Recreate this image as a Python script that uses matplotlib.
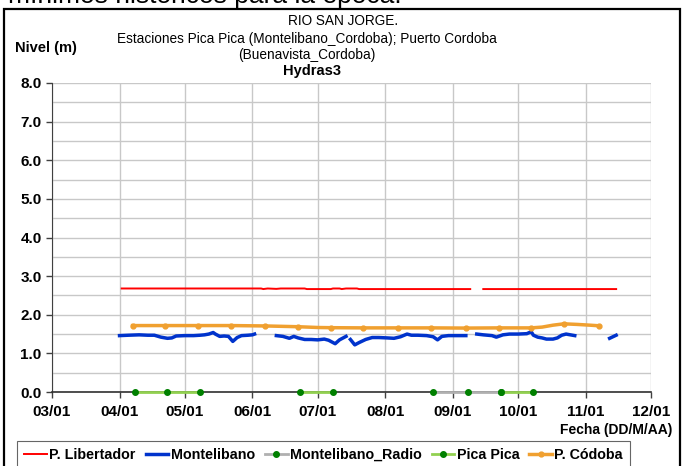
import datetime as dt
import numpy as np
import matplotlib
matplotlib.use("Agg")
import matplotlib.pyplot as plt
import matplotlib.dates as mdates
from matplotlib.patches import Rectangle

plt.rcParams['font.family'] = ['Liberation Sans', 'DejaVu Sans']

YEAR = 2011

def d(s):
    # "MM-DD" -> datetime, "gap" -> None (line break)
    if s == "gap":
        return None
    m, dd = s.split("-")
    return dt.datetime(YEAR, int(m), int(dd))

# P. Libertador (red)
lib_dates = ["04-02", "06-05", "06-06", "06-08", "06-12", "06-14", "06-25", "06-26",
             "07-07", "07-08", "07-11", "07-12", "07-14", "07-19", "07-20", "09-09",
             "gap", "09-15", "11-15"]
lib_vals = [2.68, 2.68, 2.665, 2.68, 2.67, 2.68, 2.68, 2.665,
            2.665, 2.68, 2.68, 2.665, 2.68, 2.68, 2.665, 2.665,
            np.nan, 2.665, 2.665]

# Montelibano (blue)
mon_dates = ["04-01", "04-05", "04-10", "04-14", "04-17", "04-20", "04-23", "04-25",
             "04-27", "05-01", "05-05", "05-08", "05-10", "05-12", "05-14", "05-15",
             "05-17", "05-19", "05-21", "05-23", "05-25", "05-27", "05-30", "06-01",
             "06-02", "gap",
             "06-12", "06-15", "06-18", "06-20", "06-22", "06-25", "06-28", "07-01",
             "07-04", "07-06", "07-09", "07-11", "07-13", "07-14", "gap",
             "07-16", "07-18", "07-20", "07-23", "07-26", "07-29", "08-02", "08-05",
             "08-08", "08-11", "08-13", "08-16", "08-20", "08-23", "08-25", "08-27",
             "08-30", "09-03", "09-07", "gap",
             "09-12", "09-15", "09-19", "09-21", "09-24", "09-27", "10-01", "10-05",
             "10-07", "10-08", "10-10", "10-12", "10-14", "10-17", "10-19", "10-21",
             "10-23", "10-25", "10-27", "gap",
             "11-12", "11-15"]
mon_vals = [1.46, 1.47, 1.48, 1.47, 1.47, 1.42, 1.39, 1.40,
            1.45, 1.46, 1.46, 1.47, 1.48, 1.50, 1.54, 1.50,
            1.44, 1.45, 1.44, 1.31, 1.41, 1.46, 1.47, 1.48,
            1.50, np.nan,
            1.46, 1.44, 1.39, 1.44, 1.40, 1.36, 1.36, 1.35,
            1.37, 1.34, 1.25, 1.35, 1.41, 1.44, np.nan,
            1.36, 1.22, 1.28, 1.36, 1.41, 1.41, 1.40, 1.39,
            1.43, 1.50, 1.47, 1.47, 1.46, 1.43, 1.35, 1.44,
            1.46, 1.46, 1.46, np.nan,
            1.50, 1.48, 1.46, 1.42, 1.48, 1.50, 1.50, 1.51,
            1.56, 1.47, 1.42, 1.40, 1.37, 1.37, 1.40, 1.47,
            1.50, 1.48, 1.46, np.nan,
            1.39, 1.47]

# Montelibano_Radio (grey)
radio_dates = ["08-23", "09-08", "09-23"]
radio_vals = [0.0, 0.0, 0.0]

# Pica Pica (green)
pica_dates = ["04-08", "04-23", "05-08", "gap", "06-23", "07-08", "gap", "09-23", "10-08"]
pica_vals = [0.0, 0.0, 0.0, np.nan, 0.0, 0.0, np.nan, 0.0, 0.0]

# P. Cordoba (orange)
cor_dates = ["04-07", "04-22", "05-07", "05-22", "06-07", "06-22", "07-01", "07-07",
             "07-22", "08-07", "08-22", "09-07", "09-22", "10-07", "10-12", "10-17",
             "10-22", "10-28", "11-03", "11-07"]
cor_vals = [1.72, 1.72, 1.72, 1.72, 1.71, 1.69, 1.67, 1.665,
            1.66, 1.66, 1.66, 1.655, 1.66, 1.66, 1.68, 1.73,
            1.765, 1.75, 1.73, 1.715]
cor_marked = [1, 1, 1, 1, 1, 1, 0, 1, 1, 1, 1, 1, 1, 1, 0, 0, 1, 0, 0, 1]


def series(dates, vals):
    xs, ys = [], []
    last = None
    for s, v in zip(dates, vals):
        t = d(s)
        if t is None:
            t = last + dt.timedelta(days=1)
        xs.append(t)
        ys.append(v)
        last = t
    return xs, ys


fig = plt.figure(figsize=(6.88, 4.66), dpi=100)
ax = fig.add_axes([52 / 688, 1 - 392 / 466, (651 - 52) / 688, (392 - 83) / 466])

x, y = series(lib_dates, lib_vals)
ax.plot(x, y, color="#FF0000", lw=1.4, label="P. Libertador", zorder=3)

x, y = series(mon_dates, mon_vals)
ax.plot(x, y, color="#0033CC", lw=2.5, label="Montelibano", zorder=4)

x, y = series(radio_dates, radio_vals)
ax.plot(x, y, color="#B0B0B0", lw=2.0, marker="o", ms=4, mfc="#008000", mec="#008000",
        label="Montelibano_Radio", clip_on=False, zorder=5)

x, y = series(pica_dates, pica_vals)
ax.plot(x, y, color="#92D050", lw=2.0, marker="o", ms=4, mfc="#008000", mec="#008000",
        label="Pica Pica", clip_on=False, zorder=5)

x, y = series(cor_dates, cor_vals)
marks = [i for i, m in enumerate(cor_marked) if m]
ax.plot(x, y, color="#F0A030", lw=2.5, marker="o", ms=3.5, markevery=marks,
        label="P. Códoba", zorder=4)

ax.set_xlim(dt.datetime(YEAR, 3, 1), dt.datetime(YEAR, 12, 1))
ax.set_ylim(0, 8)
ax.xaxis.set_major_locator(mdates.MonthLocator())
ax.xaxis.set_major_formatter(mdates.DateFormatter("%m/%d"))
ax.set_yticks(np.arange(0, 8.1, 1))
ax.set_yticks(np.arange(0.5, 8, 1), minor=True)
ax.yaxis.set_major_formatter(matplotlib.ticker.FormatStrFormatter("%.1f"))
ax.grid(True, which="both", color="#C8C8C8", lw=1.0)
ax.set_axisbelow(True)
ax.tick_params(axis="y", which="minor", length=0)
ax.tick_params(axis="both", which="major", length=4, color="#404040", width=1,
               labelsize=11)
ax.tick_params(axis="x", pad=5)
for lab in ax.get_xticklabels() + ax.get_yticklabels():
    lab.set_fontweight("bold")
for side in ("top", "right"):
    ax.spines[side].set_visible(False)
ax.spines["left"].set_color("#404040")
ax.spines["bottom"].set_color("#303030")
ax.spines["bottom"].set_linewidth(1.2)

# titles
fig.text(343 / 688, 1 - 21 / 466, "RIO SAN JORGE.", ha="center", va="center", fontsize=9.8)
fig.text(307 / 688, 1 - 39 / 466, "Estaciones Pica Pica (Montelibano_Cordoba); Puerto Cordoba",
         ha="center", va="center", fontsize=9.8)
fig.text(307 / 688, 1 - 55 / 466, "(Buenavista_Cordoba)", ha="center", va="center", fontsize=9.8)
fig.text(312 / 688, 1 - 71 / 466, "Hydras3", ha="center", va="center", fontsize=10.5,
         fontweight="bold")
fig.text(15 / 688, 1 - 48 / 466, "Nivel (m)", ha="left", va="center", fontsize=10.5,
         fontweight="bold")
fig.text(672 / 688, 1 - 430 / 466, "Fecha (DD/M/AA)", ha="right", va="center",
         fontsize=10, fontweight="bold")

# heading cut off at the top of the picture
fig.text(8 / 688, 1 - 3 / 466, "mínimos históricos para la época.", ha="left",
         va="baseline", fontsize=19)

# outer frame
fig.patches.append(Rectangle((4 / 688, -0.05), (680 - 4) / 688, 1.05 - 9 / 466,
                             transform=fig.transFigure, fill=False, lw=1.6,
                             edgecolor="black"))

leg = fig.legend(loc="upper left", bbox_to_anchor=(17 / 688, 1 - 441 / 466), ncol=5,
                 frameon=True, fancybox=False, edgecolor="#404040", handlelength=1.6,
                 handletextpad=0.15, columnspacing=0.7, borderpad=0.5,
                 borderaxespad=0, prop={"weight": "bold", "size": 10.3})
leg.get_frame().set_linewidth(0.8)

fig.savefig("out.png", dpi=100)
